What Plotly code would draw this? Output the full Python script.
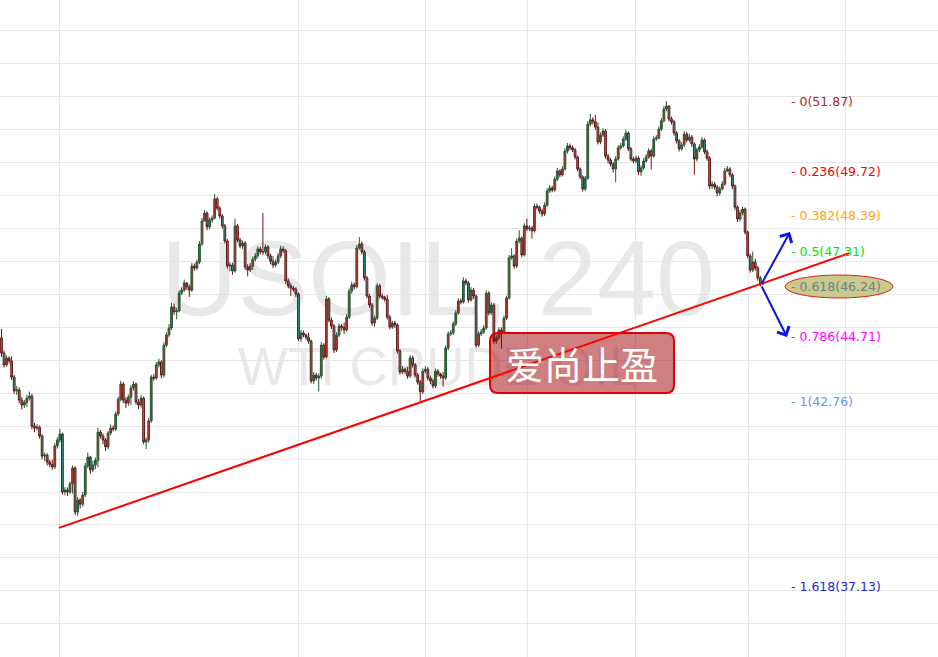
import plotly.graph_objects as go

# USOIL 240-minute candles (price units)
first_open = 44.68
closes = [
    44.22, 43.86, 44.07, 43.98,
    43.49, 43.07, 43.10, 42.79, 42.64, 42.72,
    42.85, 42.91, 42.00, 41.94, 41.97, 41.70, 41.09, 41.12, 40.91, 40.84,
    40.76, 41.40, 41.58, 41.76, 40.00, 40.06, 40.00, 40.25,
    40.73, 39.39, 39.76, 39.63, 39.91, 40.79, 41.06, 40.67, 40.82, 40.96,
    41.82, 41.70, 41.58, 41.37, 41.79, 41.94, 41.91, 42.37, 42.82, 43.28, 42.79, 42.70, 42.88,
    43.16, 43.28, 42.73, 42.64, 42.85, 41.52, 41.58, 42.16, 43.49, 43.46, 43.86, 43.95,
    # ---
    43.55, 44.46, 44.77, 44.98, 45.62,
    45.47, 45.50, 46.04, 46.13, 46.35,
    46.23, 46.13, 46.86, 46.80, 46.98, 47.53, 48.23,
    48.47, 48.05, 48.26, 48.32, 48.90, 48.62, 48.38, 48.08, 47.62, 46.86,
    46.89, 46.71, 48.08, 47.65, 47.47, 47.56, 46.83, 46.74, 46.86,
    47.07, 47.17, 47.38, 47.29,
    47.29, 47.44, 47.17, 47.01,
    46.89, 46.98,
    47.17, 47.38, 47.32, 46.41, 46.26, 46.19, 46.16, 46.01, 44.65, 44.83, 44.77, 44.70,
    44.58, 43.37, 43.55, 43.46, 43.52, 44.46,
    # ---
    44.10, 45.86, 45.22, 45.04, 44.31, 44.77, 45.04, 45.00,
    44.92, 45.31, 46.10, 46.29, 46.23, 47.41, 47.53, 47.29, 46.50, 45.95, 45.68, 45.13, 45.28, 46.26, 45.95, 45.92, 45.85,
    45.31, 45.01, 45.13, 45.07, 44.28, 43.64, 43.73, 43.66,
    43.52, 44.07, 43.86, 43.55, 43.34, 43.04, 43.67, 43.73, 43.46, 43.37, 43.22, 43.67, 43.58, 43.52,
    43.46, 44.37, 44.80, 44.83, 45.10, 45.44, 45.80, 45.77, 46.41, 46.35, 45.83, 46.13, 45.95, 44.46, 44.80, 44.86,
    44.98, 46.04, 45.44, 45.68, 44.58, 44.68, 44.92,
    # ---
    44.86, 45.28, 45.89, 47.11, 47.17, 46.86, 47.62, 47.71, 47.20, 48.08,
    47.99, 48.02, 47.93, 48.68, 48.65, 48.53, 48.44, 48.71, 49.14, 49.23,
    49.17, 49.50, 49.75, 49.63, 49.81, 50.35, 50.51, 50.45, 50.39, 50.17,
    49.81, 49.57, 49.20, 49.53, 51.17, 51.30, 51.24, 51.08,
    50.63, 50.84, 50.96, 50.20, 50.08, 49.96, 49.81, 50.11, 50.45, 50.51, 50.72,
    50.90, 50.42, 50.11, 50.05, 50.14, 49.72, 49.84, 50.05, 50.17, 50.36,
    50.20, 50.72, 50.75, 51.02, 51.27, 51.63, 51.72,
    51.33, 51.24, 50.90, 50.66, 50.42, 50.54, 50.87, 50.69, 50.78, 50.57, 50.11, 50.39, 50.48, 50.69,
    50.33, 50.14, 49.29, 49.35, 49.26, 49.08, 49.20,
    49.35, 49.75, 49.81, 49.63, 49.29, 48.65, 48.29, 48.47, 48.59, 47.89, 47.17, 46.74,
    46.98, 46.80, 46.50, 46.32, 46.35,
]
highs = [
    44.95, 44.30, 44.15, 44.12,
    44.12, 43.55, 43.22, 43.18, 42.88, 42.80,
    42.95, 43.05, 42.98, 42.10, 42.06, 42.02, 41.75, 41.20, 41.18, 40.98,
    40.98, 41.48, 41.66, 41.92, 41.80, 40.15, 40.14, 40.32,
    40.80, 40.78, 39.85, 39.82, 40.00, 40.88, 41.20, 41.10, 40.95, 41.05,
    41.95, 41.88, 41.78, 41.64, 41.85, 42.05, 42.02, 42.45, 42.90, 43.38, 43.34, 42.88, 42.96,
    43.25, 43.36, 43.32, 42.82, 42.95, 42.90, 41.66, 42.25, 43.56, 43.58, 43.95, 44.05,
    # ---
    44.00, 44.55, 44.85, 45.10, 45.75,
    45.72, 45.60, 46.12, 46.22, 46.45,
    46.36, 46.30, 46.95, 46.94, 47.06, 47.62, 48.32,
    48.56, 48.52, 48.34, 48.40, 49.05, 48.96, 48.68, 48.44, 48.14, 47.68,
    46.98, 46.96, 48.30, 48.14, 47.72, 47.64, 47.62, 46.92, 46.95,
    47.15, 47.26, 47.46, 47.45,
    48.47, 47.52, 47.50, 47.24,
    47.16, 47.06,
    47.26, 47.48, 47.46, 47.38, 46.48, 46.34, 46.26, 46.22, 46.06, 44.92, 44.90, 44.80,
    44.84, 44.63, 43.64, 43.62, 43.60, 44.55,
    # ---
    44.52, 45.95, 45.92, 45.30, 45.10, 44.85, 45.12, 45.10,
    45.15, 45.40, 46.18, 46.38, 46.36, 47.50, 47.74, 47.60, 47.35, 46.56, 46.02, 45.74, 45.36, 46.34, 46.32, 46.02, 45.96,
    45.98, 45.38, 45.20, 45.20, 45.12, 44.34, 43.82, 43.78,
    43.80, 44.15, 44.14, 43.92, 43.62, 43.40, 43.75, 43.82, 43.80, 43.54, 43.44, 43.75, 43.74, 43.62,
    43.64, 44.45, 44.88, 44.92, 45.18, 45.52, 45.88, 45.88, 46.52, 46.48, 46.40, 46.22, 46.20, 46.00, 44.88, 44.95,
    45.06, 46.12, 46.10, 45.76, 45.74, 44.76, 45.00,
    # ---
    45.00, 45.36, 45.96, 47.20, 47.40, 47.22, 47.70, 47.95, 47.76, 48.16,
    48.30, 48.10, 48.08, 48.76, 48.76, 48.70, 48.60, 48.80, 49.22, 49.32,
    49.30, 49.58, 49.84, 49.80, 49.90, 50.44, 50.60, 50.58, 50.52, 50.44,
    50.22, 49.86, 49.62, 49.60, 51.26, 51.48, 51.38, 51.45,
    51.22, 50.92, 51.05, 51.02, 50.26, 50.14, 50.02, 50.20, 50.54, 50.60, 50.80,
    51.00, 50.95, 50.48, 50.18, 50.22, 50.20, 49.92, 50.14, 50.26, 50.44,
    50.42, 50.80, 50.84, 51.10, 51.36, 51.72, 51.87,
    51.74, 51.40, 51.30, 50.96, 50.72, 50.62, 50.96, 50.94, 50.88, 50.84, 50.62, 50.46, 50.56, 50.78,
    50.74, 50.40, 50.20, 49.44, 49.42, 49.32, 49.28,
    49.44, 49.84, 49.90, 49.86, 49.68, 49.34, 48.70, 48.56, 48.66, 48.64, 47.94, 47.24,
    47.30, 47.08, 46.86, 46.56, 46.42,
]
lows = [
    44.10, 43.78, 43.80, 43.90,
    43.40, 42.98, 42.95, 42.70, 42.50, 42.55,
    42.58, 42.78, 41.90, 41.82, 41.88, 41.62, 41.00, 40.95, 40.80, 40.75,
    40.68, 40.70, 41.32, 41.50, 39.92, 39.90, 39.88, 39.94,
    39.95, 39.30, 39.28, 39.50, 39.55, 39.85, 40.72, 40.55, 40.60, 40.70,
    40.75, 41.62, 41.45, 41.25, 41.30, 41.72, 41.84, 41.85, 42.30, 42.75, 42.70, 42.55, 42.62,
    42.64, 43.08, 42.65, 42.52, 42.56, 41.45, 41.30, 41.50, 42.10, 43.38, 43.40, 43.78,
    # ---
    43.45, 43.48, 44.40, 44.70, 44.92,
    45.38, 45.25, 45.45, 45.98, 46.08,
    46.14, 45.92, 46.08, 46.72, 46.74, 46.92, 47.48,
    48.22, 47.95, 47.98, 48.18, 48.28, 48.55, 48.30, 48.00, 47.55, 46.78,
    46.70, 46.60, 46.66, 47.58, 47.40, 47.38, 46.75, 46.55, 46.68,
    46.74, 47.00, 47.10, 47.22,
    47.20, 47.22, 47.08, 46.92,
    46.80, 46.82,
    46.92, 47.10, 47.25, 46.32, 46.18, 45.95, 46.08, 45.92, 44.58, 44.56, 44.70, 44.62,
    44.50, 43.30, 43.28, 43.38, 43.05, 43.45,
    # ---
    44.02, 44.05, 45.15, 44.95, 44.22, 44.25, 44.70, 44.90,
    44.80, 44.86, 45.25, 46.02, 46.15, 46.18, 47.36, 47.22, 46.42, 45.88, 45.60, 45.05, 45.02, 45.22, 45.88, 45.84, 45.78,
    45.24, 44.94, 44.95, 44.98, 44.20, 43.56, 43.58, 43.58,
    43.44, 43.46, 43.78, 43.48, 43.26, 42.76, 42.98, 43.60, 43.38, 43.28, 43.14, 43.16, 43.50, 43.44,
    43.20, 43.40, 44.30, 44.74, 44.76, 45.04, 45.38, 45.70, 45.72, 46.28, 45.75, 45.78, 45.86, 44.38, 44.40, 44.74,
    44.80, 44.92, 45.36, 45.38, 44.50, 44.50, 44.62,
    # ---
    44.35, 44.80, 45.22, 45.84, 47.05, 46.78, 46.80, 47.55, 47.12, 47.15,
    47.92, 47.92, 47.70, 47.88, 48.58, 48.45, 48.36, 48.38, 48.66, 49.08,
    49.10, 49.12, 49.44, 49.56, 49.58, 49.76, 50.28, 50.38, 50.32, 50.10,
    49.74, 49.50, 49.12, 49.14, 49.48, 51.10, 51.16, 51.00,
    50.55, 50.56, 50.78, 50.12, 49.98, 49.88, 49.70, 49.40, 50.06, 50.40, 50.46,
    50.66, 50.35, 50.04, 49.98, 49.98, 49.62, 49.60, 49.78, 50.00, 50.12,
    49.80, 50.15, 50.66, 50.70, 50.96, 51.22, 51.56,
    51.25, 51.16, 50.82, 50.58, 50.34, 50.36, 50.48, 50.62, 50.62, 50.48, 49.63, 50.04, 50.32, 50.42,
    50.26, 50.06, 49.20, 49.20, 49.18, 48.98, 49.00,
    49.16, 49.30, 49.72, 49.56, 49.20, 48.56, 48.20, 48.22, 48.40, 47.82, 47.10, 46.66,
    46.68, 46.72, 46.42, 46.24, 46.28,
]
opens = [first_open] + closes[:-1]
candle_x = list(range(len(closes)))

# Fibonacci retracement levels
fib_levels = ["0", "0.236", "0.382", "0.5", "0.618", "0.786", "1", "1.618"]
fib_prices = [51.87, 49.72, 48.39, 47.31, 46.24, 44.71, 42.76, 37.13]
fib_colors = ["#a52a2a", "#ff0000", "#ffa500", "#00e600", "#6f7f8c",
              "#ff00ff", "#6495ed", "#1f1fe0"]

# rising trend line (candle index, price)
trend_x = [22.66, 334.3]
trend_y = [38.91, 47.26]

# vertical grid positions (candle index)
grid_x = [22.66, 117.2, 166.9, 207.4, 250.0, 294.5, 332.4]

W, H = 938, 657


def px(x):
    return x / W


def py(y):
    return 1 - y / H


fig = go.Figure()
fig.add_trace(
    go.Candlestick(
        x=candle_x,
        open=opens,
        high=highs,
        low=lows,
        close=closes,
        increasing=dict(line=dict(color="#1e5b34", width=1), fillcolor="#e51c1c"),
        decreasing=dict(line=dict(color="#6a1616", width=1), fillcolor="#1aa493"),
        hoverinfo="skip",
        showlegend=False,
    )
)

shapes = []
# watermark (below candles)
watermark_font = "Liberation Sans"
watermark_color = "rgba(190,190,190,0.36)"
shapes.append(dict(
    type="rect", xref="paper", yref="paper", layer="below",
    x0=px(100), x1=px(776), y0=py(308), y1=py(228),
    line=dict(width=0), fillcolor="rgba(0,0,0,0)",
    label=dict(text="USOIL, 240", textposition="middle center",
               font=dict(family=watermark_font, size=106, color=watermark_color)),
))
shapes.append(dict(
    type="rect", xref="paper", yref="paper", layer="below",
    x0=px(100), x1=px(776), y0=py(383), y1=py(339),
    line=dict(width=0), fillcolor="rgba(0,0,0,0)",
    label=dict(text="WTI CRUDE OIL", textposition="middle center",
               font=dict(family=watermark_font, size=53, color=watermark_color)),
))

# rounded label box
x0, x1, yt, yb = px(490), px(674), py(333), py(393)
rx, ry = 8 / W, 8 / H
box_path = (
    f"M{x0 + rx},{yt} L{x1 - rx},{yt} Q{x1},{yt} {x1},{yt - ry} "
    f"L{x1},{yb + ry} Q{x1},{yb} {x1 - rx},{yb} L{x0 + rx},{yb} "
    f"Q{x0},{yb} {x0},{yb + ry} L{x0},{yt - ry} Q{x0},{yt} {x0 + rx},{yt} Z"
)
shapes.append(dict(
    type="path", xref="paper", yref="paper", path=box_path, layer="above",
    fillcolor="rgba(160,0,0,0.5)", line=dict(color="#e00000", width=2),
))

# ellipse around the 0.618 level
shapes.append(dict(
    type="circle", xref="paper", yref="paper", layer="above",
    x0=px(785), x1=px(893), y0=py(298), y1=py(275),
    fillcolor="#c9c98b", line=dict(color="#e02020", width=1),
))

# trend line
shapes.append(dict(
    type="line", xref="x", yref="y", layer="above",
    x0=trend_x[0], y0=trend_y[0], x1=trend_x[1], y1=trend_y[1],
    line=dict(color="#ff0000", width=2),
))

annotations = []
for lvl, price, color in zip(fib_levels, fib_prices, fib_colors):
    annotations.append(dict(
        xref="paper", yref="y", x=px(789), y=price,
        xanchor="left", yanchor="middle", showarrow=False,
        text=f"- {lvl}({price:.2f})",
        font=dict(family="DejaVu Sans", size=12.5, color=color),
    ))

annotations.append(dict(
    xref="paper", yref="paper", x=px(582), y=py(362),
    xanchor="center", yanchor="middle", showarrow=False,
    text="爱尚止盈",
    font=dict(family="Noto Sans CJK SC", size=38, color="white"),
))

# blue arrows
for hx, hy in [(790, 232), (787, 337)]:
    annotations.append(dict(
        xref="paper", yref="paper", x=px(hx), y=py(hy),
        ax=761 - hx, ay=285 - hy, text="", showarrow=True,
        arrowhead=4, arrowsize=1.3, arrowwidth=2, arrowcolor="#0a14e6",
    ))

fig.update_layout(
    width=W,
    height=H,
    margin=dict(l=0, r=0, t=0, b=0),
    paper_bgcolor="white",
    plot_bgcolor="white",
    showlegend=False,
    shapes=shapes,
    annotations=annotations,
    xaxis_rangeslider_visible=False,
    hovermode=False,
    boxgap=0.0,
)
fig.update_xaxes(
    range=[-0.59, 369.0], tickmode="array", tickvals=grid_x,
    showticklabels=False, showgrid=True, gridcolor="#e6e6e6",
    zeroline=False, showline=False, ticks="",
)
fig.update_yaxes(
    range=[34.99, 54.94], tick0=0, dtick=1,
    showticklabels=False, showgrid=True, gridcolor="#e6e6e6",
    zeroline=False, showline=False, ticks="",
)

fig.write_html(
    "out.html",
    config={"displayModeBar": False},
    post_script="document.body.style.margin='0';",
)
